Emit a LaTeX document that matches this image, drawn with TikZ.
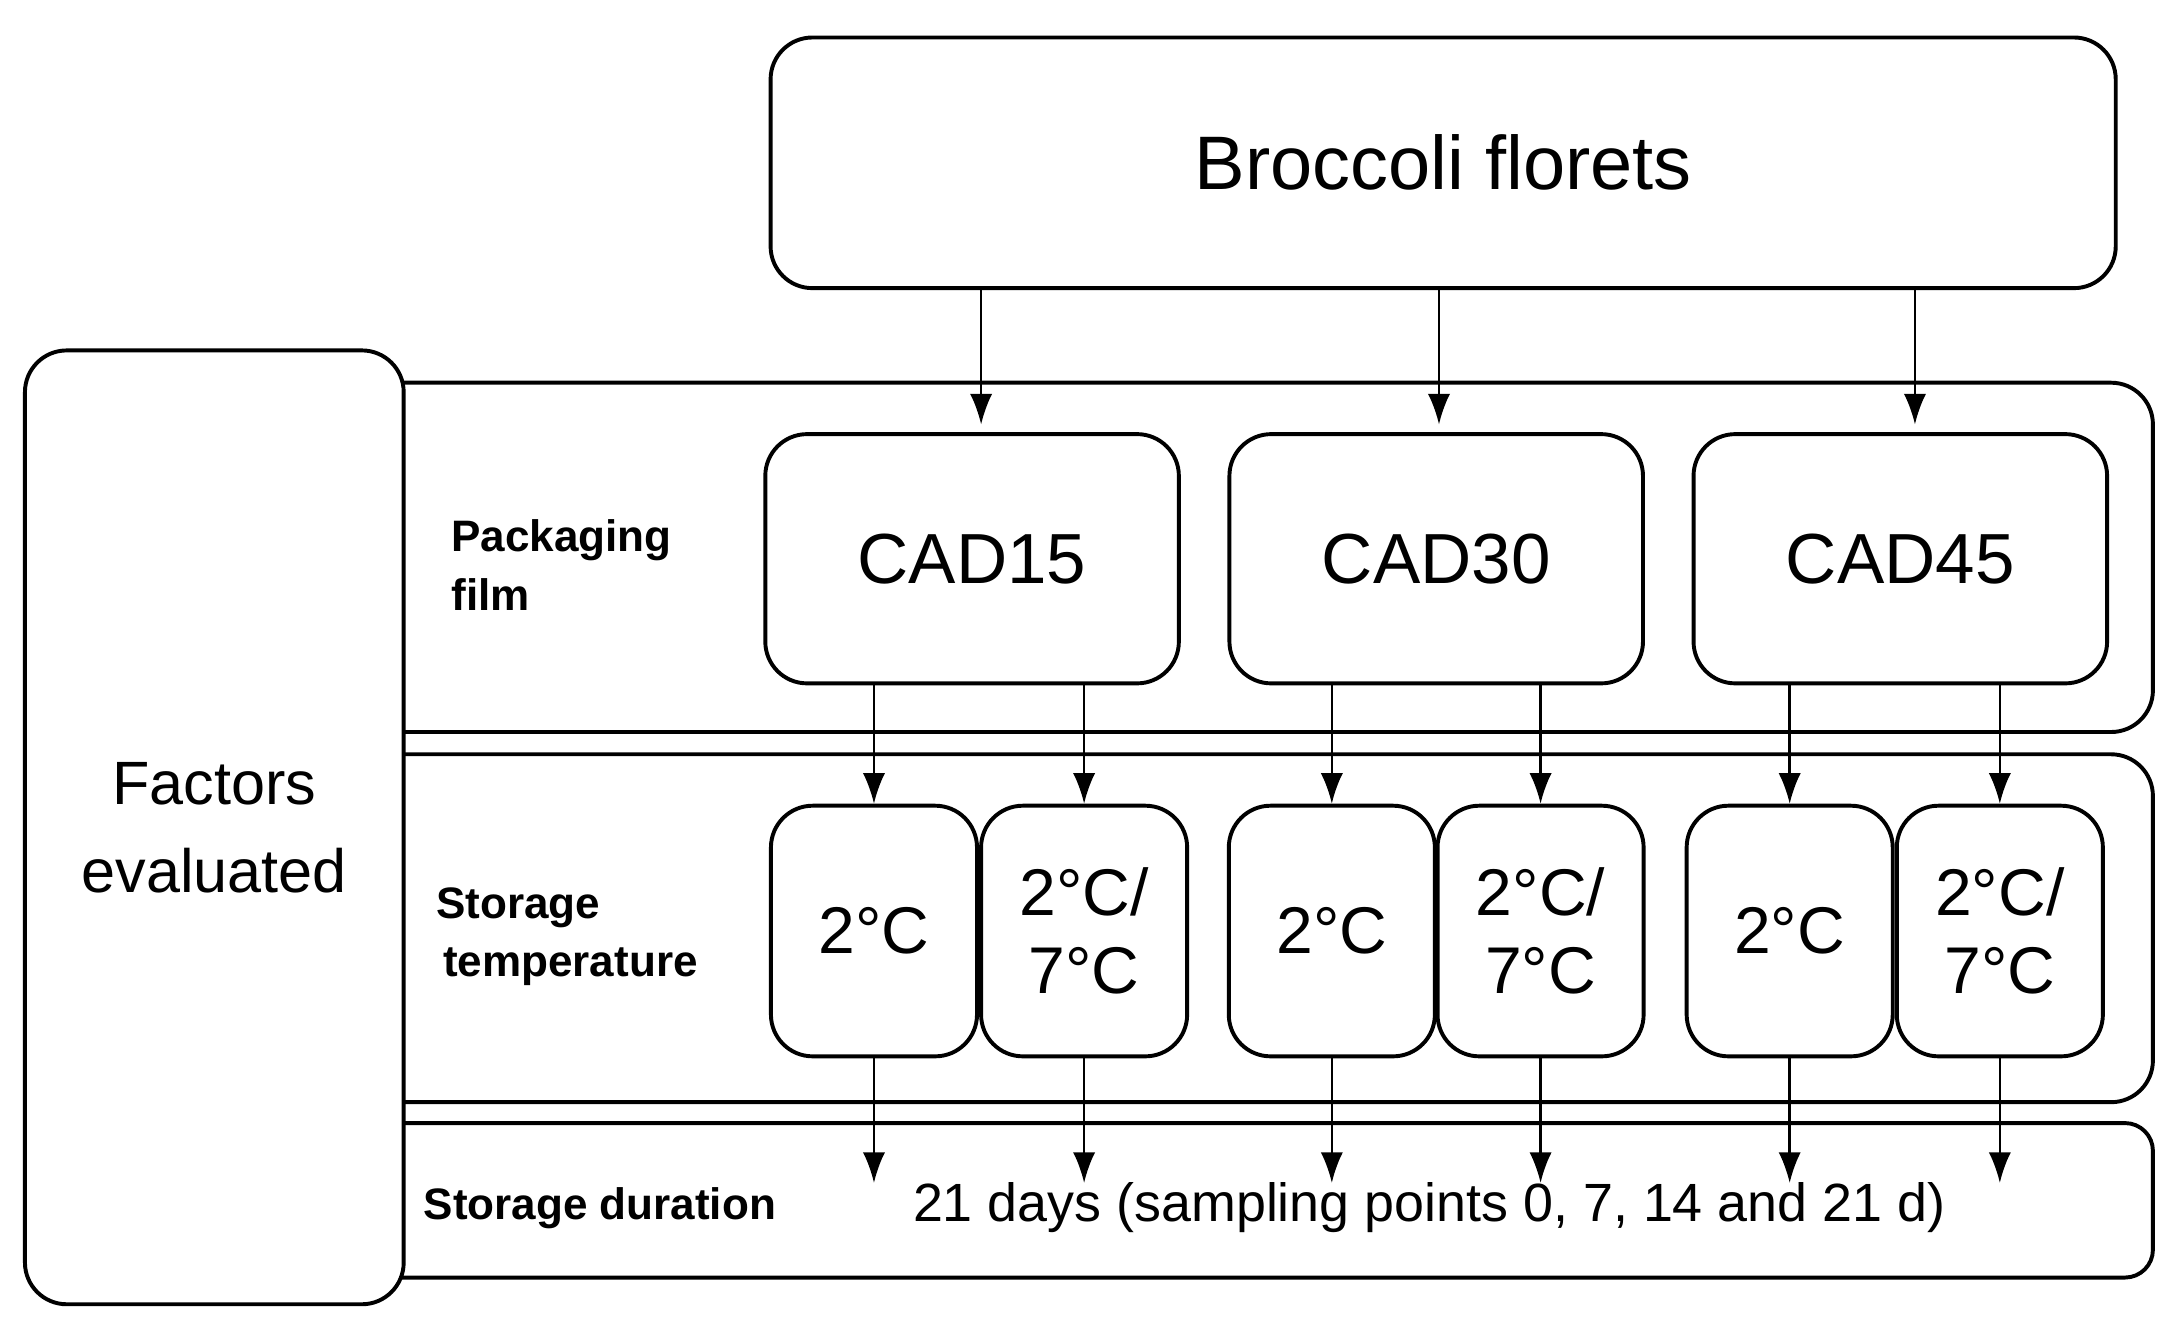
\documentclass[tikz,border=0pt]{standalone}
\usepackage{fontspec}
\setmainfont{Liberation Sans}
\usetikzlibrary{arrows.meta}
\begin{document}
\begin{tikzpicture}[x=0.01cm,y=-0.01cm,
  box/.style={draw,line width=0.8pt,rounded corners=0.3cm,align=center,inner sep=0},
  arr/.style={-{Latex[length=2.2mm,width=1.6mm]},line width=0.5pt},
  lab/.style={font=\bfseries\fontsize{9}{12}\selectfont,align=left,anchor=west}]
\useasboundingbox (0,0) rectangle (1560,946);
% bands
\draw[line width=0.8pt,rounded corners=0.3cm] (200,275) rectangle (1547,526);
\draw[line width=0.8pt,rounded corners=0.3cm] (200,542) rectangle (1547,792);
\draw[line width=0.8pt,rounded corners=0.2cm] (200,807) rectangle (1547,918);
\node[box,fill=white,minimum width=2.72cm,minimum height=6.85cm,font=\fontsize{12.5}{18}\selectfont] (fac) at (154,594.5) {Factors\\evaluated};
\node[box,minimum width=9.66cm,minimum height=1.8cm,font=\fontsize{15.5}{19}\selectfont] (bro) at (1037,117) {Broccoli florets};
\foreach \n/\x in {15/698.5,30/1032,45/1365.5}
  \node[box,minimum width=2.97cm,minimum height=1.79cm,font=\fontsize{14.5}{18}\selectfont] (c\n) at (\x,401.5) {CAD\n};
\foreach \n/\x in {a/628,b/779,c/957,d/1107,e/1286,f/1437}
  \node[box,minimum width=1.48cm,minimum height=1.8cm] (t\n) at (\x,669) {};
\foreach \n in {a,c,e} \node[font=\fontsize{13.5}{17}\selectfont] at (t\n) {2°C};
\foreach \n in {b,d,f} \node[font=\fontsize{13.5}{16}\selectfont,align=center] at (t\n) {2°C/\\7°C};
% arrows
\foreach \c/\x in {15/705,30/1034,45/1376}{
  \coordinate (k\c) at (\x,305);
  \draw[arr] (bro.south -| k\c) -- (k\c);}
\foreach \c/\p/\q in {15/a/b,30/c/d,45/e/f}{
  \draw[arr] (c\c.south -| t\p) -- (t\p.north);
  \draw[arr] (c\c.south -| t\q) -- (t\q.north);}
\coordinate (dur) at (0,850);
\foreach \n in {a,b,c,d,e,f}{
  \coordinate (e\n) at (t\n.south |- dur);
  \draw[arr] (t\n.south) -- (e\n);}
\node[lab] (l1) at (312,406) {Packaging\\film};
\node[lab] (l2) at (301,673) {Storage\\\hspace*{0.5mm}temperature};
\node[lab] (l3) at (292,868) {Storage duration};
\node[font=\fontsize{11}{14}\selectfont] (d) at (1027,868) {21 days (sampling points 0, 7, 14 and 21 d)};
\end{tikzpicture}
\end{document}
